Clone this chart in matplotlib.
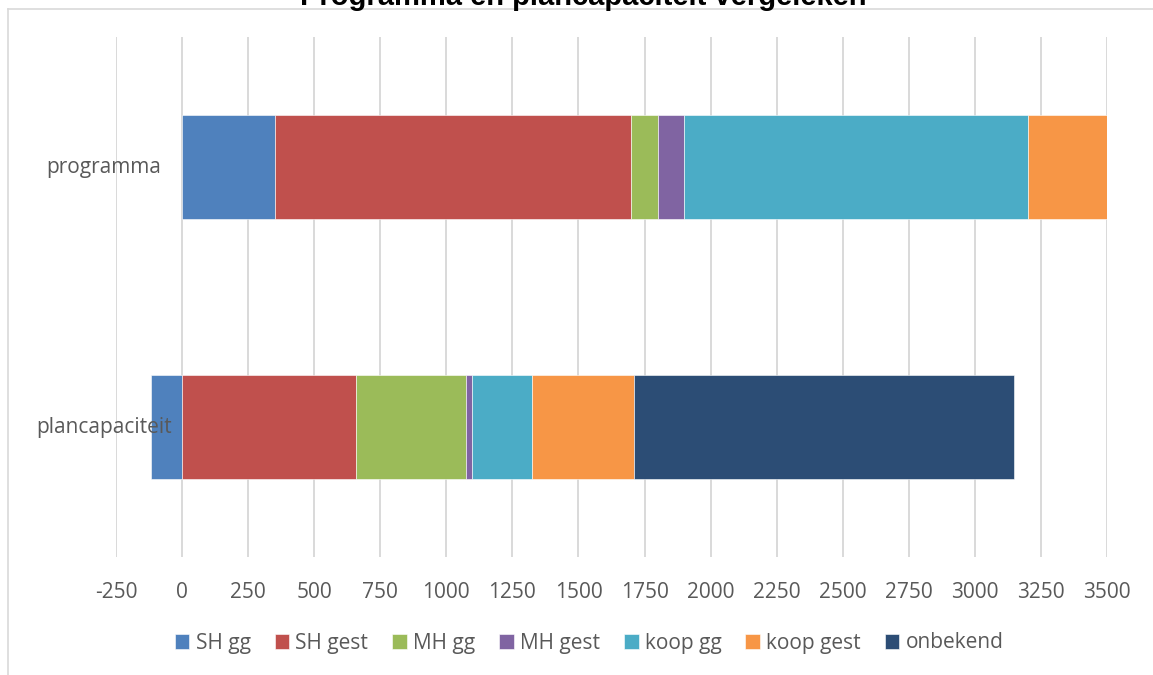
import numpy as np
import matplotlib.pyplot as plt
from matplotlib.lines import Line2D

plt.rcParams['font.family'] = ['Open Sans', 'DejaVu Sans']

categories = ['programma', 'plancapaciteit']
series = ['SH gg', 'SH gest', 'MH gg', 'MH gest', 'koop gg', 'koop gest', 'onbekend']
values = {
    'SH gg':     [350, -118],
    'SH gest':   [1350, 660],
    'MH gg':     [100, 416],
    'MH gest':   [100, 22],
    'koop gg':   [1300, 228],
    'koop gest': [300, 385],
    'onbekend':  [0, 1437],
}
colors = ['#4F81BD', '#C0504D', '#9BBB59', '#8064A2', '#4BACC6', '#F79646', '#2C4D75']
ticks = list(range(-250, 3501, 250))

W, H = 1153, 675
fig = plt.figure(figsize=(W / 100, H / 100), dpi=100)
ax = fig.add_axes([116 / W, 1 - 557 / H, (1107 - 116) / W, (557 - 37) / H])

ypos = np.array([1, 0])
pos_base = np.zeros(len(categories))
neg_base = np.zeros(len(categories))
for name, col in zip(series, colors):
    v = np.array(values[name], dtype=float)
    left = np.where(v >= 0, pos_base, neg_base)
    ax.barh(ypos, v, left=left, height=0.4, color=col, label=name,
            edgecolor='#ffffff', linewidth=0.4, zorder=3)
    pos_base += np.where(v >= 0, v, 0)
    neg_base += np.where(v < 0, v, 0)

ax.set_xlim(-250, 3500)
ax.set_ylim(-0.5, 1.5)
ax.set_xticks(ticks)
ax.set_xticklabels([str(t) for t in ticks])
ax.set_yticks([])
ax.grid(axis='x', color='#d9d9d9', linewidth=1.4, zorder=0)
for s in ax.spines.values():
    s.set_visible(False)
ax.tick_params(axis='x', length=0, pad=18, labelsize=15, labelcolor='#595959')

# category labels sit centred left of the plot area
for cat, y in zip(categories, ypos):
    yy = ax.transData.transform((0, y))[1]
    fig.text(104 / W, yy / H, cat, ha='center', va='center',
             fontsize=15, color='#595959')

fig.legend(loc='center', bbox_to_anchor=(0.511, 1 - 643 / H), ncol=7,
           frameon=False, fontsize=15, handlelength=0.7, handleheight=0.7,
           handletextpad=0.3, columnspacing=1.15, labelcolor='#595959')

fig.text(0.506, 1 - 5 / H, 'Programma en plancapaciteit vergeleken',
         ha='center', va='baseline', fontsize=21, fontweight='bold',
         family='Liberation Sans', color='#000000')

# outer frame of the chart area
fig.add_artist(Line2D([8 / W, 1], [1 - 9 / H, 1 - 9 / H], color='#d9d9d9', linewidth=1.2))
fig.add_artist(Line2D([8 / W, 8 / W], [0, 1 - 9 / H], color='#d9d9d9', linewidth=1.2))

fig.savefig('out.png', dpi=100)
plt.close(fig)
